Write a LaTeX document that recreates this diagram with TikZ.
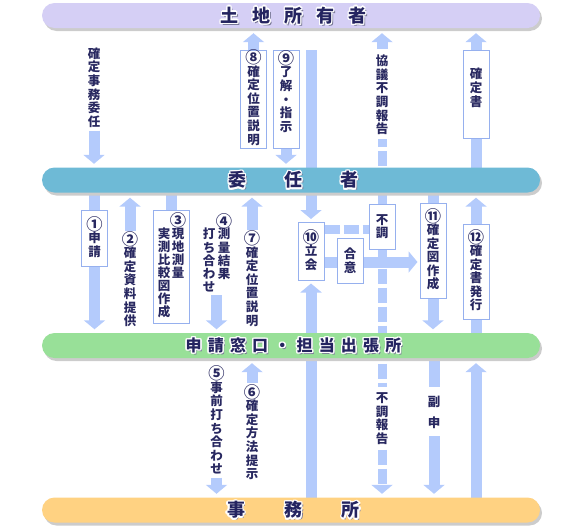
\documentclass[tikz,border=0pt]{standalone}
\usepackage{fontspec}
\usepackage{graphicx}
\newfontfamily\jp{Noto Sans CJK JP}
\usetikzlibrary{arrows.meta,shadows}
\pgfdeclarelayer{background}
\pgfsetlayers{background,main}
\definecolor{arrowc}{RGB}{180,203,252}
\definecolor{boxc}{RGB}{150,176,238}
\definecolor{labc}{RGB}{40,40,96}
\definecolor{ownerc}{RGB}{213,207,245}
\definecolor{agentc}{RGB}{110,186,214}
\definecolor{officec}{RGB}{152,224,152}
\definecolor{firmc}{RGB}{255,210,130}
\definecolor{titlec}{RGB}{36,36,96}
\definecolor{tshadow}{RGB}{120,120,150}
\newcommand\twocol[3][14pt]{\makebox[#1]{#2}\makebox[#1]{#3}}
\newcommand\cnum[1]{\raisebox{-1.3pt}[10pt][1.5pt]{\scalebox{1.3}{#1}}}
\tikzset{
  bar/.style={draw=none, rounded corners=12.5pt, minimum width=498pt, minimum height=25pt, inner sep=0pt,
    drop shadow={shadow xshift=2pt, shadow yshift=-3pt, fill=black!20, opacity=1}},
  bartxt/.style={text=titlec, inner sep=0pt},
  lab/.style={font=\jp\bfseries\fontsize{12.5}{13.6}\selectfont, text=labc, align=center, inner sep=0pt},
  lbox/.style={lab, draw=boxc, line width=1pt, fill=white, minimum width=26pt, inner xsep=0pt, inner ysep=2pt},
  arr/.style={draw=arrowc, line width=11pt, -{Triangle[width=21pt,length=9pt]}},
  up/.style={arr, shorten >=5pt},
  down/.style={arr, shorten >=3.5pt},
  shaft/.style={draw=arrowc, line width=11pt},
  dsh/.style={draw=arrowc, line width=9pt, dash pattern=on 15pt off 4pt},
}
\newcommand\bartitle[4]{%
  \node[bartxt, font=\jp\bfseries\fontsize{#3}{#3}\selectfont, text=tshadow] at ([xshift=4.3pt,yshift=-1.8pt]#2.center) {#4};
  \foreach \a in {0,30,...,330}{\node[bartxt, font=\jp\bfseries\fontsize{#3}{#3}\selectfont, text=white] at ([xshift=2.5pt,shift={(\a:1.4pt)}]#2.center) {#4};}
  \node[bartxt, font=\jp\bfseries\fontsize{#3}{#3}\selectfont] (#1) at ([xshift=2.5pt]#2.center) {#4};
}
\begin{document}
\begin{tikzpicture}[x=1pt,y=-1pt]
\useasboundingbox (0,0) rectangle (585,530);
% bars
\node[bar, fill=ownerc] (owner) at (291,15.5) {};
\node[bar, fill=agentc] (agent) at (291,180) {};
\node[bar, fill=officec] (office) at (291,345.5) {};
\node[bar, fill=firmc] (firm) at (291,510) {};
\bartitle{ownerT}{owner}{18}{土\hspace{14pt}地\hspace{14pt}所\hspace{14pt}有\hspace{14pt}者}
\bartitle{agentT}{agent}{18}{委\hspace{38pt}任\hspace{38pt}者}
\bartitle{officeT}{office}{16}{申\hspace{6.2pt}請\hspace{6.2pt}窓\hspace{6.2pt}口\hspace{6.2pt}・\hspace{6.2pt}担\hspace{6.2pt}当\hspace{6.2pt}出\hspace{6.2pt}張\hspace{6.2pt}所}
\bartitle{firmT}{firm}{18}{事\hspace{39.5pt}務\hspace{39.5pt}所}
% upper section
\node[lab] (t0) at (94,87.5) {確\\定\\事\\務\\委\\任};
\node[lbox, minimum height=98pt] (b8) at (253.5,99) {\cnum{⑧}\\確\\定\\位\\置\\説\\明};
\node[lbox, minimum height=98pt] (b9) at (286,99) {\cnum{⑨}\\了\\解\\・\\指\\示\\\mbox{}};
\coordinate (g0) at (311,50);
\node[lab] (tH1) at (382,95) {協\\議\\不\\調\\報\\告};
\node[lbox, minimum height=88pt] (bJ) at (476,94) {確\\定\\書\\\mbox{}};
% middle section
\node[lbox, minimum height=56pt] (b1) at (94.5,238) {\cnum{①}\\申\\請};
\node[lab] (t2) at (130,280.5) {\cnum{②}\\確\\定\\資\\料\\提\\供};
\node[lbox, minimum width=36pt, minimum height=113pt, font=\jp\bfseries\fontsize{12.5}{13.1}\selectfont] (b3) at (171,266.5)
  {\twocol{}{\cnum{③}}\\\twocol{実}{現}\\\twocol{測}{地}\\\twocol{比}{測}\\\twocol{較}{量}\\\twocol{図}{}\\\twocol{作}{}\\\twocol{成}{}};
\node[lab, font=\jp\bfseries\fontsize{12.5}{13.2}\selectfont] (t4) at (216.5,254)
  {\twocol[15pt]{}{\cnum{④}}\\\twocol[15pt]{打}{測}\\\twocol[15pt]{ち}{量}\\\twocol[15pt]{合}{結}\\\twocol[15pt]{わ}{果}\\\twocol[15pt]{せ}{}};
\node[lab] (t7) at (252,280) {\cnum{⑦}\\確\\定\\位\\置\\説\\明};
\node[lbox, minimum height=58pt] (b10) at (311,251) {\cnum{⑩}\\立\\会};
\node[lbox, minimum height=45pt] (bgo) at (350,260.5) {合\\意};
\node[lbox, minimum height=45pt] (bfu) at (382,226.5) {不\\調};
\node[lbox, minimum height=95pt] (b11) at (433,250.5) {\cnum{⑪}\\確\\定\\図\\作\\成};
\node[lbox, minimum height=95pt] (b12) at (476,271.5) {\cnum{⑫}\\確\\定\\書\\発\\行};
\coordinate (hy) at (0,262);
\coordinate (dy) at (0,229);
% lower section
\node[lab] (t5) at (216.5,421.5) {\cnum{⑤}\\事\\前\\打\\ち\\合\\わ\\せ};
\node[lab] (t6) at (252,433.5) {\cnum{⑥}\\確\\定\\方\\法\\提\\示};
\node[lab] (tH2) at (382,418.5) {不\\調\\報\\告};
\node[lab] (tfk) at (434,412.5) {副\\[7.4pt]申};
% connectors
\begin{pgfonlayer}{background}
\draw[down, shorten <=3pt] (t0) -- (t0 |- agent.north);
\draw[up] (b8) -- (b8 |- owner.south);
\draw[down] (b9) -- (b9 |- agent.north);
\draw[up, shorten <=6pt] (tH1) -- (tH1 |- owner.south);
\draw[up] (agent -| bJ) -- (bJ |- owner.south);
\draw[down, shorten >=2.5pt] (g0) -- (b10);
\draw[down] (agent -| b1) -- (b1 |- office.north);
\draw[up, shorten <=3pt] (t2) -- (t2 |- agent.south);
\draw[shaft] (agent -| b3) -- (b3);
\draw[down, shorten <=3pt] (t4) -- (t4 |- office.north);
\draw[up, shorten <=3pt] (t7) -- (t7 |- agent.south);
\draw[up, shorten >=3pt] (firm -| b10) -- (b10);
\draw[arr, shorten >=2pt] (b10.east |- hy) -- (b11.west |- hy);
\draw[dsh] (b10.east |- dy) -- (bfu.west |- dy);
\draw[dsh, shorten >=4pt] (bfu) -- (tH1);
\draw[down] (agent -| b11) -- (b11 |- office.north);
\draw[up] (office -| b12) -- (b12 |- agent.south);
\draw[down, shorten <=3pt] (t5) -- (t5 |- firm.north);
\draw[up, shorten <=4pt] (t6) -- (t6 |- office.south);
\draw[dsh, shorten >=5pt] (bfu) -- (tH2);
\draw[dsh, -{Triangle[width=21pt,length=9pt]}, shorten <=5pt, shorten >=3.5pt] (tH2) -- (tH2 |- firm.north);
\draw[shaft, shorten >=9pt] (office -| tfk) -- (tfk);
\draw[down, shorten <=7pt] (tfk) -- (tfk |- firm.north);
\draw[up] (firm -| b12) -- (b12 |- office.south);
\end{pgfonlayer}
\end{tikzpicture}
\end{document}
